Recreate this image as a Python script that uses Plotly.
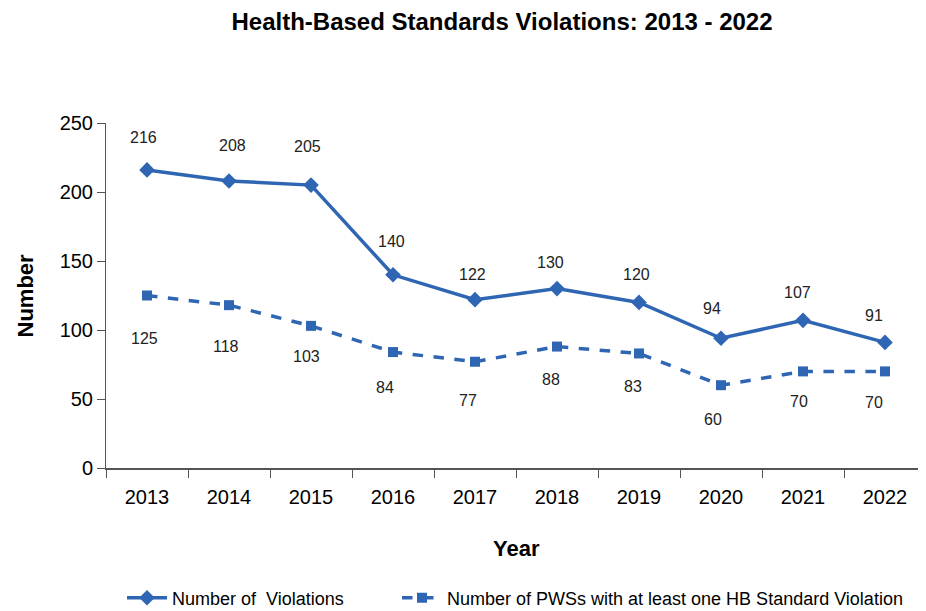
import plotly.graph_objects as go

years = ["2013", "2014", "2015", "2016", "2017", "2018", "2019", "2020", "2021", "2022"]
violations = [216, 208, 205, 140, 122, 130, 120, 94, 107, 91]
pws_violations = [125, 118, 103, 84, 77, 88, 83, 60, 70, 70]
y_ticks = [0, 50, 100, 150, 200, 250]

# label placement offsets (pixels) as placed in the original chart
upper_dy = [32, 35, 39, 33, 25, 26, 28, 30, 28, 27]
upper_dx = [-4, 3, -4, -2, -3, -7, -3, -9, -6, -11]
lower_dy = [43, 41, 31, 35, 39, 33, 33, 34, 30, 31]
lower_dx = [-3, -3, -5, -8, -7, -6, -6, -8, -4, -11]

FONT = "Liberation Sans Narrow, Arial Narrow, Liberation Sans, Arial, sans-serif"
BLUE = "#2F66B3"

# page body has an 8px margin, so the figure is sized/offset to compensate
W, H = 918, 603
L, T, B, R = 98, 115, 143, 0
PW, PH = W - L - R, H - T - B

fig = go.Figure()
fig.add_trace(go.Scatter(
    x=years, y=violations, mode="lines+markers", name="Number of  Violations",
    line=dict(color=BLUE, width=3.5),
    marker=dict(symbol="diamond", size=12, color=BLUE),
    legend="legend",
))
fig.add_trace(go.Scatter(
    x=years, y=pws_violations, mode="lines+markers",
    name="Number of PWSs with at least one HB Standard Violation",
    line=dict(color=BLUE, width=3.5, dash="dash"),
    marker=dict(symbol="square", size=10, color=BLUE),
    legend="legend2",
))

for i, v in enumerate(violations):
    fig.add_annotation(x=i, y=v, xref="x", yref="y", text=str(v), showarrow=False,
                       xshift=upper_dx[i], yshift=upper_dy[i],
                       font=dict(family=FONT, size=16, color="#222"))
for i, v in enumerate(pws_violations):
    fig.add_annotation(x=i, y=v, xref="x", yref="y", text=str(v), showarrow=False,
                       xshift=lower_dx[i], yshift=-lower_dy[i],
                       font=dict(family=FONT, size=16, color="#222"))

# axis titles
fig.add_annotation(xref="paper", yref="paper", x=0.5, y=-80 / PH, yanchor="middle",
                   text="<b>Year</b>", showarrow=False,
                   font=dict(family=FONT, size=22, color="black"))
fig.add_annotation(xref="paper", yref="paper", x=-81 / PW, y=0.5, xanchor="center",
                   yanchor="middle", textangle=-90, text="<b>Number</b>", showarrow=False,
                   font=dict(family=FONT, size=22, color="black"))

leg_common = dict(orientation="h", xanchor="left", y=-130 / PH, yanchor="middle",
                  font=dict(family=FONT, size=18, color="black"), itemwidth=40,
                  bgcolor="rgba(0,0,0,0)")

fig.update_layout(
    width=W, height=H,
    margin=dict(l=L, r=R, t=T, b=B, autoexpand=False),
    paper_bgcolor="white", plot_bgcolor="white",
    font=dict(family=FONT, color="black"),
    title=dict(text="<b>Health-Based Standards Violations: 2013 - 2022</b>",
               x=494 / W, xanchor="center", y=1 - 14 / H, yanchor="middle",
               font=dict(family=FONT, size=24, color="black")),
    showlegend=True,
    legend=dict(x=(122 - 8 - L) / PW, **leg_common),
    legend2=dict(x=(397 - 8 - L) / PW, **leg_common),
    xaxis=dict(type="category", range=[-0.5, 9.5], showline=True, automargin=False,
               linecolor="#555", linewidth=2, ticks="outside", ticklen=8,
               tickcolor="#555", tickson="boundaries", showgrid=False,
               ticklabelstandoff=10,
               tickfont=dict(family=FONT, size=20, color="black")),
    yaxis=dict(range=[0, 250], tickvals=y_ticks, showline=True, linecolor="#555",
               automargin=False, linewidth=1, ticks="outside", ticklen=8,
               tickcolor="#555", showgrid=False, zeroline=False,
               tickfont=dict(family=FONT, size=20, color="black")),
)

fig.write_html("out.html")
